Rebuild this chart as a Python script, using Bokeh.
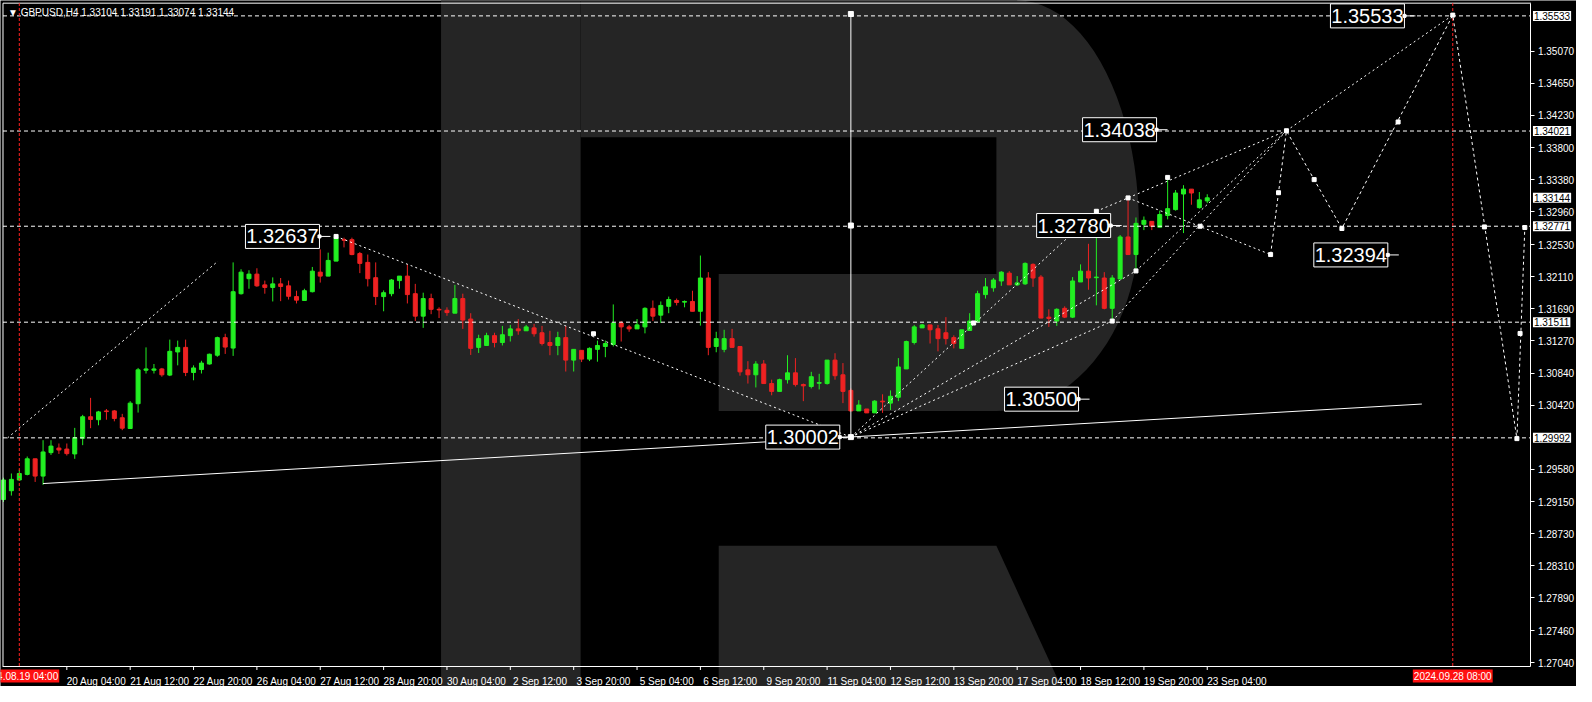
import numpy as np
from bokeh.plotting import figure
from bokeh.models import (Range1d, LinearAxis, FixedTicker, Label,
                          ColumnDataSource, PrintfTickFormatter)
from bokeh.core.properties import value
from bokeh.embed import file_html
from bokeh.resources import INLINE

# ---------------- data (GBPUSD H4, bar index 0 = 2024.08.19 04:00) ----------------
bar_index = list(range(-2, 151))
open_ = [1.29182, 1.29298, 1.29439, 1.29512, 1.29717, 1.29490, 1.29798, 1.29858, 1.29845, 1.29781,
         1.29986, 1.30269, 1.30230, 1.30346, 1.30346, 1.30256, 1.30115, 1.30440, 1.30880, 1.30880,
         1.30897, 1.30816, 1.31120, 1.31180, 1.30850, 1.30889, 1.30962, 1.31077, 1.31308, 1.31171,
         1.31885, 1.32082, 1.32142, 1.32001, 1.31967, 1.32014, 1.31988, 1.31847, 1.31796, 1.31911,
         1.32168, 1.32116, 1.32313, 1.32595, 1.32595, 1.32412, 1.32296, 1.32095, 1.31847, 1.31885,
         1.32057, 1.32116, 1.31885, 1.31590, 1.31821, 1.31680, 1.31667, 1.31629, 1.31821, 1.31552,
         1.31180, 1.31205, 1.31334, 1.31244, 1.31334, 1.31423, 1.31398, 1.31436, 1.31372, 1.31244,
         1.31205, 1.31308, 1.31013, 1.31141, 1.31026, 1.31154, 1.31192, 1.31218, 1.31500, 1.31449,
         1.31423, 1.31449, 1.31693, 1.31603, 1.31719, 1.31796, 1.31774, 1.31783, 1.31654, 1.32091,
         1.31192, 1.31154, 1.31295, 1.31192, 1.30885, 1.30820, 1.30962, 1.30705, 1.30602, 1.30756,
         1.30846, 1.30692, 1.30666, 1.30709, 1.30705, 1.31013, 1.30820, 1.30615, 1.30346, 1.30371,
         1.30320, 1.30474, 1.30448, 1.30525, 1.30897, 1.31244, 1.31436, 1.31475, 1.31424, 1.31372,
         1.31308, 1.31167, 1.31402, 1.31513, 1.31873, 1.31962, 1.32052, 1.32155, 1.32001, 1.32014,
         1.32270, 1.32103, 1.31577, 1.31526, 1.31693, 1.31577, 1.32039, 1.32181, 1.32095, 1.32091,
         1.31693, 1.32078, 1.32630, 1.32399, 1.32796, 1.32835, 1.32758, 1.32912, 1.32989, 1.33194,
         1.33258, 1.33015, 1.33104]
high = [1.29469, 1.29524, 1.29576, 1.29747, 1.29717, 1.29961, 1.29961, 1.29918, 1.29918, 1.30123,
        1.30294, 1.30517, 1.30346, 1.30371, 1.30358, 1.30307, 1.30474, 1.30910, 1.31180, 1.30962,
        1.30910, 1.31282, 1.31269, 1.31282, 1.30944, 1.31004, 1.31098, 1.31321, 1.31359, 1.32296,
        1.32206, 1.32193, 1.32219, 1.32057, 1.32099, 1.32091, 1.32057, 1.31924, 1.31950, 1.32236,
        1.32467, 1.32424, 1.32637, 1.32621, 1.32621, 1.32433, 1.32399, 1.32296, 1.31928, 1.32078,
        1.32116, 1.32270, 1.32014, 1.31898, 1.31885, 1.31706, 1.31706, 1.32001, 1.31885, 1.31629,
        1.31346, 1.31372, 1.31372, 1.31462, 1.31475, 1.31552, 1.31475, 1.31488, 1.31462, 1.31398,
        1.31385, 1.31462, 1.31154, 1.31141, 1.31180, 1.31269, 1.31269, 1.31744, 1.31526, 1.31475,
        1.31552, 1.31706, 1.31796, 1.31783, 1.31847, 1.31821, 1.31796, 1.31924, 1.32386, 1.32168,
        1.31385, 1.31411, 1.31423, 1.31192, 1.30999, 1.30999, 1.31013, 1.30756, 1.30769, 1.31077,
        1.31039, 1.30705, 1.30859, 1.30833, 1.31013, 1.31103, 1.30974, 1.30640, 1.30487, 1.30371,
        1.30487, 1.30564, 1.30615, 1.31039, 1.31269, 1.31475, 1.31488, 1.31475, 1.31475, 1.31577,
        1.31338, 1.31411, 1.31629, 1.31924, 1.32091, 1.32091, 1.32181, 1.32181, 1.32116, 1.32296,
        1.32283, 1.32129, 1.31680, 1.31693, 1.31719, 1.32103, 1.32270, 1.32540, 1.32976, 1.32168,
        1.32129, 1.32655, 1.33143, 1.32886, 1.32899, 1.32835, 1.32976, 1.33412, 1.33246, 1.33310,
        1.33258, 1.33220, 1.33191]
low = [1.29150, 1.29234, 1.29426, 1.29499, 1.29413, 1.29375, 1.29768, 1.29781, 1.29760, 1.29717,
       1.29896, 1.30119, 1.30157, 1.30230, 1.30209, 1.30093, 1.30115, 1.30324, 1.30837, 1.30837,
       1.30795, 1.30803, 1.30944, 1.30803, 1.30748, 1.30837, 1.30953, 1.31056, 1.31094, 1.31068,
       1.31873, 1.31950, 1.31975, 1.31885, 1.31783, 1.31787, 1.31808, 1.31757, 1.31796, 1.31902,
       1.32031, 1.32116, 1.32313, 1.32493, 1.32390, 1.32155, 1.31980, 1.31736, 1.31654, 1.31851,
       1.31950, 1.31757, 1.31526, 1.31436, 1.31616, 1.31565, 1.31595, 1.31629, 1.31423, 1.31081,
       1.31107, 1.31205, 1.31180, 1.31205, 1.31257, 1.31346, 1.31398, 1.31321, 1.31205, 1.31077,
       1.31077, 1.30863, 1.30863, 1.30987, 1.31000, 1.30992, 1.31051, 1.31192, 1.31257, 1.31385,
       1.31423, 1.31364, 1.31526, 1.31500, 1.31629, 1.31731, 1.31706, 1.31654, 1.31466, 1.31077,
       1.31116, 1.31116, 1.31180, 1.30808, 1.30705, 1.30654, 1.30705, 1.30551, 1.30602, 1.30705,
       1.30666, 1.30474, 1.30641, 1.30628, 1.30692, 1.30756, 1.30448, 1.30340, 1.30346, 1.30320,
       1.30320, 1.30320, 1.30358, 1.30474, 1.30897, 1.31218, 1.31436, 1.31231, 1.31128, 1.31218,
       1.31167, 1.31167, 1.31402, 1.31513, 1.31821, 1.31911, 1.31988, 1.32001, 1.31988, 1.32001,
       1.31975, 1.31565, 1.31449, 1.31462, 1.31565, 1.31565, 1.32039, 1.31937, 1.31732, 1.31680,
       1.31500, 1.32078, 1.32399, 1.32168, 1.32720, 1.32720, 1.32758, 1.32861, 1.32976, 1.32681,
       1.33053, 1.33002, 1.33074]
close = [1.29439, 1.29447, 1.29524, 1.29717, 1.29490, 1.29807, 1.29884, 1.29832, 1.29785, 1.29995,
         1.30269, 1.30234, 1.30333, 1.30337, 1.30247, 1.30119, 1.30448, 1.30885, 1.30897, 1.30897,
         1.30820, 1.31128, 1.31180, 1.30850, 1.30910, 1.30974, 1.31090, 1.31308, 1.31184, 1.31911,
         1.32168, 1.32142, 1.31988, 1.31967, 1.32014, 1.31980, 1.31851, 1.31800, 1.31924, 1.32181,
         1.32116, 1.32322, 1.32621, 1.32587, 1.32399, 1.32283, 1.32082, 1.31847, 1.31898, 1.32065,
         1.32116, 1.31873, 1.31590, 1.31821, 1.31680, 1.31672, 1.31637, 1.31821, 1.31539, 1.31167,
         1.31295, 1.31334, 1.31244, 1.31346, 1.31423, 1.31398, 1.31449, 1.31359, 1.31231, 1.31205,
         1.31308, 1.31013, 1.31154, 1.31026, 1.31167, 1.31205, 1.31231, 1.31500, 1.31449, 1.31423,
         1.31475, 1.31693, 1.31590, 1.31731, 1.31808, 1.31770, 1.31783, 1.31654, 1.32091, 1.31180,
         1.31295, 1.31295, 1.31180, 1.30859, 1.30820, 1.30962, 1.30705, 1.30602, 1.30756, 1.30846,
         1.30692, 1.30675, 1.30795, 1.30718, 1.31013, 1.30808, 1.30602, 1.30346, 1.30423, 1.30320,
         1.30474, 1.30465, 1.30538, 1.30923, 1.31257, 1.31449, 1.31475, 1.31411, 1.31295, 1.31295,
         1.31231, 1.31411, 1.31526, 1.31885, 1.31975, 1.32065, 1.32168, 1.32001, 1.32027, 1.32283,
         1.32091, 1.31565, 1.31560, 1.31680, 1.31577, 1.32052, 1.32181, 1.32091, 1.32103, 1.31693,
         1.32091, 1.32630, 1.32399, 1.32809, 1.32848, 1.32771, 1.32925, 1.33002, 1.33207, 1.33258,
         1.33207, 1.33117, 1.33144]

# time axis labels (every 8 bars)
tick_bars = [6, 14, 22, 30, 38, 46, 54, 62, 70, 78, 86, 94, 102, 110, 118, 126, 134, 142, 150]
tick_labels = ["20 Aug 04:00", "21 Aug 12:00", "22 Aug 20:00", "26 Aug 04:00", "27 Aug 12:00",
               "28 Aug 20:00", "30 Aug 04:00", "2 Sep 12:00", "3 Sep 20:00", "5 Sep 04:00",
               "6 Sep 12:00", "9 Sep 20:00", "11 Sep 04:00", "12 Sep 12:00", "13 Sep 20:00",
               "17 Sep 04:00", "18 Sep 12:00", "19 Sep 20:00", "23 Sep 04:00"]
price_ticks = [1.35070, 1.34650, 1.34230, 1.33800, 1.33380, 1.32960, 1.32530, 1.32110,
               1.31690, 1.31270, 1.30840, 1.30420, 1.29580, 1.29150, 1.28730, 1.28310,
               1.27890, 1.27460, 1.27040]

# horizontal levels and axis price tags
level_prices = [1.35533, 1.34021, 1.32771, 1.31511, 1.29992]
axis_tags = [1.35533, 1.34021, 1.33144, 1.32771, 1.31511, 1.29992]
date_tag_bars = [0, 181]
date_tag_text = ["2024.08.19 04:00", "2024.09.28 08:00"]

# chart price labels: (text, bar of box right edge, price)
label_text = ["1.32637", "1.34038", "1.32780", "1.30500", "1.30002", "1.32394", "1.35533"]
label_bar = [37.9, 143.6, 137.8, 133.75, 103.6, 172.8, 174.9]
label_price = [1.32637, 1.34038, 1.32780, 1.30500, 1.30002, 1.32394, 1.35533]

# trend line
trend_x = [3.0, 177.1]
trend_y = [1.29392, 1.30436]
# vertical range line
vline_x = 105
vline_y = [1.30002, 1.32780, 1.35558]

# dotted analysis lines: (x0, y0) -> (x1, y1)
dot_x0 = [-1.5, 40, 105, 105, 105, 138, 140, 141, 136, 160]
dot_y0 = [1.29990, 1.32637, 1.30002, 1.30002, 1.30002, 1.31526, 1.33143, 1.32184, 1.32967, 1.34025]
dot_x1 = [25.1, 105, 136, 138, 141, 160, 158, 160, 160, 181]
dot_y1 = [1.32313, 1.30002, 1.32967, 1.31526, 1.32184, 1.34025, 1.32399, 1.34025, 1.34025, 1.35543]
# forecast path
path_x = [158, 160, 167, 181, 189.1, 190.1]
path_y = [1.32399, 1.34025, 1.32741, 1.35543, 1.29982, 1.32754]
# wave markers
mark_x = [40, 72.5, 120.5, 136, 138, 140, 141, 145, 149.1, 158, 159, 160, 163.5, 167, 174.1,
          181, 185, 189.1, 189.5, 190.1]
mark_y = [1.32637, 1.31359, 1.31500, 1.32967, 1.31526, 1.33143, 1.32184, 1.33412, 1.32771,
          1.32399, 1.33211, 1.34025, 1.33383, 1.32741, 1.34140, 1.35543, 1.32762, 1.29982,
          1.31363, 1.32754]

# ---------------- geometry ----------------
W, H = 1576, 686
# whole canvas range (reference canvas 1592 x 702 px, 8 px per bar)
CX0, CX1 = -2.375, 196.625
CY0, CY1 = 1.26727, 1.35735
# chart (price area) limits
X0, X1 = -2.06, 190.875
Y0, Y1 = 1.26996, 1.35700
ppb = W / (CX1 - CX0)                 # screen px per bar
ppp = H / (CY1 - CY0)                 # screen px per price unit

FONT = "Liberation Sans"
p = figure(width=W, height=H, x_range=Range1d(CX0, CX1), y_range=Range1d(CY0, CY1),
           output_backend="svg", toolbar_location=None, x_axis_location=None,
           y_axis_location="right", min_border=0)
p.background_fill_color = "black"
p.border_fill_color = "black"
p.outline_line_color = None
p.grid.visible = False

# price axis, drawn on the right edge of the price area
ya = p.yaxis[0]
ya.fixed_location = X1
ya.bounds = (Y0, Y1)
ya.ticker = FixedTicker(ticks=price_ticks, minor_ticks=[])
ya.formatter = PrintfTickFormatter(format="%.5f")
ya.axis_line_color = "white"
ya.major_tick_line_color = "white"
ya.major_tick_out = 4
ya.major_tick_in = 0
ya.minor_tick_line_color = None
ya.major_label_text_color = "white"
ya.major_label_text_font = FONT
ya.major_label_text_font_size = "10px"
ya.major_label_standoff = 3

# time axis: labels placed to the right of each tick (MT4 style)
lab_pos = [t + 3.75 for t in tick_bars]
xl = LinearAxis(ticker=FixedTicker(ticks=lab_pos, minor_ticks=[]),
                major_label_overrides={k: v for k, v in zip(lab_pos, tick_labels)},
                fixed_location=Y0, bounds=(X0, X1),
                axis_line_color="white", major_tick_line_color=None, minor_tick_line_color=None,
                major_label_text_color="white", major_label_text_font=FONT,
                major_label_text_font_size="10px", major_label_standoff=4)
p.add_layout(xl, "below")

# ---------------- watermark "R" ----------------
def rx(x):
    return (x - 19.0) / 8.0

def ry(y):
    return 1.35735 - 0.00012832 * y

t1 = np.linspace(-np.pi / 2, 0, 24)
t2 = np.linspace(0, np.pi / 2, 24)
bowl_px = [586, 1027] + list(1027 + 123 * np.cos(t1)) + list(1006 + 144 * np.cos(t2)) + [725.5, 725.5, 1006, 1006, 586]
bowl_py = [-10, -10] + list(232 + 232 * np.sin(t1)) + list(232 + 188 * np.sin(t2)) + [420, 280, 280, 140, 140]
wm_xs = [[rx(v) for v in [445, 586, 586, 445]],
         [rx(v) for v in bowl_px],
         [rx(v) for v in [725.5, 1006, 1075, 725.5]]]
wm_ys = [[ry(v) for v in [-10, -10, 710, 710]],
         [ry(v) for v in bowl_py],
         [ry(v) for v in [558, 558, 710, 710]]]
wm = p.patches(wm_xs, wm_ys, fill_color="#252525", line_color=None)
wm.level = "image"

# ---------------- candles ----------------
up = [c >= o for o, c in zip(open_, close)]
colors = ["#22ee22" if u else "#ee2222" for u in up]
src = ColumnDataSource(dict(x=bar_index, o=open_, h=high, l=low, c=close,
                            top=[max(o, c) for o, c in zip(open_, close)],
                            bot=[min(o, c) for o, c in zip(open_, close)],
                            col=colors))
p.segment(x0="x", y0="h", x1="x", y1="l", source=src, line_color="col", line_width=1)
p.vbar(x="x", top="top", bottom="bot", width=4.0 / ppb, source=src,
       fill_color="col", line_color="col", line_width=1)

# ---------------- chart frame, levels, time ticks ----------------
p.segment(x0=[X0, X0], y0=[Y0, Y1], x1=[X0, X1], y1=[Y1, Y1], line_color="white", line_width=1)
p.segment(x0=[X0] * len(level_prices), y0=level_prices, x1=[X1] * len(level_prices),
          y1=level_prices, line_color="white", line_dash="4 3", line_width=1)
p.segment(x0=date_tag_bars, y0=[Y0] * 2, x1=date_tag_bars, y1=[Y1] * 2,
          line_color="#ff2020", line_dash="3 2", line_width=1)
p.segment(x0=tick_bars, y0=[Y0] * len(tick_bars), x1=tick_bars,
          y1=[Y0 - 4 / ppp] * len(tick_bars), line_color="white", line_width=1)

# ---------------- analysis lines ----------------
p.line(trend_x, trend_y, line_color="white", line_width=1)
p.segment(x0=[vline_x], y0=[vline_y[0]], x1=[vline_x], y1=[vline_y[2]],
          line_color="white", line_width=1)
p.scatter([vline_x] * 3, vline_y, marker="square", size=5, color="white")
p.segment(x0=dot_x0, y0=dot_y0, x1=dot_x1, y1=dot_y1, line_color="white",
          line_dash="2 3", line_width=1)
p.line(path_x, path_y, line_color="white", line_dash="3 3", line_width=1)
p.scatter(mark_x, mark_y, marker="square", size=4, color="white")

# ---------------- price labels on chart ----------------
box_w, box_h = 74, 24
cx = [b - (box_w / 2) / ppb for b in label_bar]
p.rect(x=cx, y=label_price, width=box_w, height=box_h, width_units="screen",
       height_units="screen", fill_color="black", line_color="white", line_width=1)
p.text(x=cx, y=label_price, text=label_text, text_align="center", text_baseline="middle",
       text_color="white", text_font_size="20px", text_font=value(FONT))
p.segment(x0=label_bar, y0=label_price, x1=[b + 11 / ppb for b in label_bar], y1=label_price,
          line_color="white", line_width=1)
p.scatter(label_bar, label_price, marker="square", size=3, color="white")

# ---------------- title ----------------
p.add_layout(Label(x=X0, y=Y1, x_offset=5, y_offset=-9,
                   text="▼ GBPUSD,H4  1.33104 1.33191 1.33074 1.33144",
                   text_color="white", text_font=FONT, text_font_size="10px",
                   text_baseline="middle", text_align="left"))

# ---------------- axis price tags / date tags ----------------
has_pad = "padding" in Label.properties()

def tag(**kw):
    if has_pad:
        kw["padding"] = 1
    return Label(text_font=FONT, text_font_size="10px", text_baseline="middle", **kw)

for v in axis_tags:
    p.add_layout(tag(x=X1, y=v, x_offset=2, text=f"{v:.5f}", text_color="black",
                     text_align="left", background_fill_color="white"))

for b, t in zip(date_tag_bars, date_tag_text):
    p.add_layout(tag(x=b, y=Y0, y_offset=-10, text=t, text_color="white",
                     text_align="center", background_fill_color="#ff1010"))

open("out.html", "w").write(file_html(p, INLINE))
